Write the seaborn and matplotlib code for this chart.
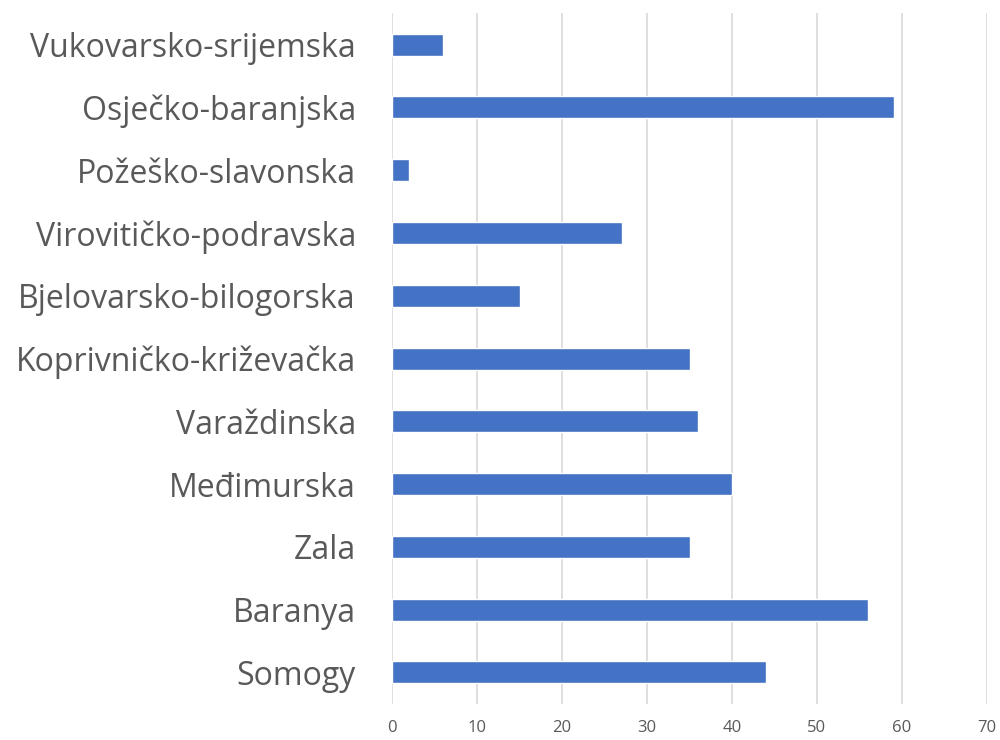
import matplotlib
matplotlib.use("Agg")
import matplotlib.pyplot as plt
import seaborn as sns
import pandas as pd

# podaci po županijama / megyék
regions = ["Vukovarsko-srijemska", "Osječko-baranjska", "Požeško-slavonska",
           "Virovitičko-podravska", "Bjelovarsko-bilogorska", "Koprivničko-križevačka",
           "Varaždinska", "Međimurska", "Zala", "Baranya", "Somogy"]
values = [6, 59, 2, 27, 15, 35, 36, 40, 35, 56, 44]
x_ticks = [0, 10, 20, 30, 40, 50, 60, 70]

df = pd.DataFrame({"region": regions, "value": values})

sns.set_style("white")
plt.rcParams["font.family"] = ["Open Sans", "DejaVu Sans"]

fig = plt.figure(figsize=(10, 7.4), dpi=100)
ax = fig.add_axes([0.392, 0.049, 0.595, 0.933])

sns.barplot(data=df, x="value", y="region", color="#4472C4", saturation=1,
            width=0.35, ax=ax, zorder=3)

ax.set_xlim(0, 70)
ax.set_xticks(x_ticks)
ax.grid(axis="x", color="#D9D9D9", linewidth=1.2, zorder=0)
ax.set_axisbelow(True)
for s in ax.spines.values():
    s.set_visible(False)
ax.set_xlabel("")
ax.set_ylabel("")
ax.tick_params(axis="x", labelsize=12, colors="#595959", length=0, pad=12)
ax.tick_params(axis="y", labelsize=23, colors="#595959", length=0, pad=26)

fig.savefig("out.png", dpi=100)
